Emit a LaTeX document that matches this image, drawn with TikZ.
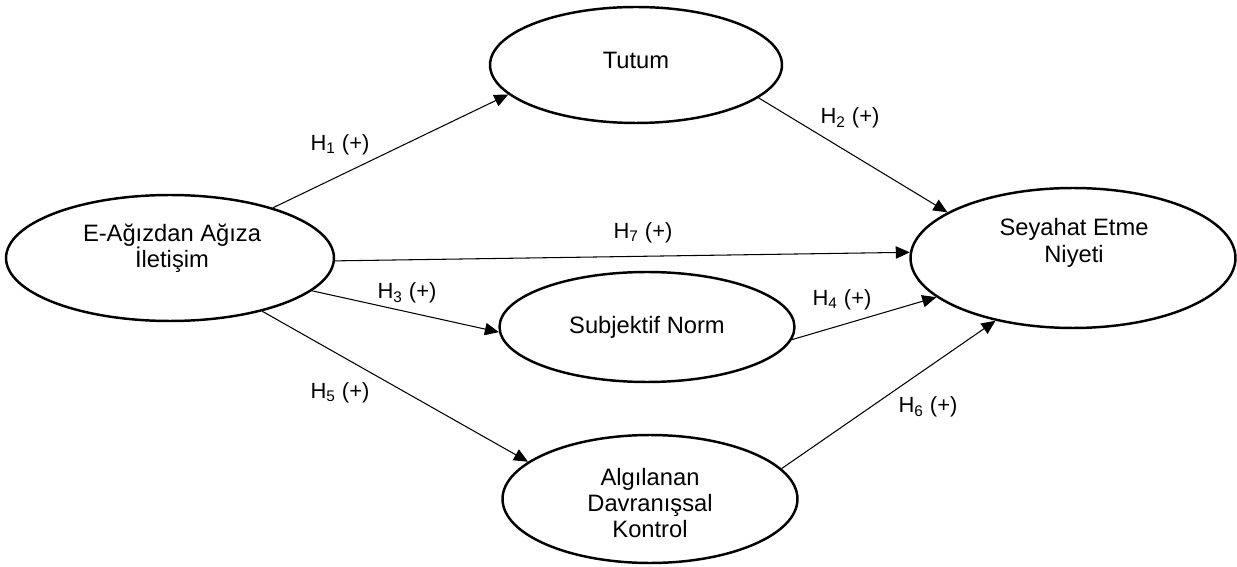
\documentclass[tikz,border=0pt]{standalone}
\usepackage{fontspec}
\setmainfont{Liberation Sans}
\usetikzlibrary{shapes.geometric,arrows.meta}

\begin{document}
\begin{tikzpicture}[x=0.02cm,y=-0.02cm,
        var/.style={draw,ellipse,line width=1.4pt,inner sep=0pt},
        txt/.style={align=center,font=\fontsize{13.5}{15}\selectfont},
        hyp/.style={font=\fontsize{12.5}{15}\selectfont},
        path/.style={line width=0.6pt,-{Triangle[length=8pt,width=7pt]}}]
        \useasboundingbox (0,0) rectangle (1237,567);
        % ellipses
        \node[var,minimum width=5.84cm,minimum height=2.32cm] (tut) at (636,65) {};
        \node[var,minimum width=6.56cm,minimum height=2.52cm] (ewom) at (170,258) {};
        \node[var,minimum width=6.5cm,minimum height=2.8cm] (niy) at (1073,258) {};
        \node[var,minimum width=5.9cm,minimum height=2.2cm] (sn) at (647,327) {};
        \node[var,minimum width=5.9cm,minimum height=2.56cm] (adk) at (650,499) {};
        \node[txt] (tuttxt) at (636,60) {Tutum};
        \node[txt] (ewomtxt) at (172,248) {E-Ağızdan Ağıza\\İletişim};
        \node[txt] (niytxt) at (1074,243) {Seyahat Etme\\Niyeti};
        \node[txt] (sntxt) at (647,327) {Subjektif Norm};
        \node[txt] (adktxt) at (650,503) {Algılanan\\Davranışsal\\Kontrol};
        % paths
        \draw[path] (ewom.26) -- (tut.193.5);
        \draw[path] (tut.345) -- (niy.160.2);
        \draw[path] (ewom.359.3) -- (niy.178.2);
        \draw[path] (ewom.347.4) -- (sn.182.3);
        \draw[path] (sn.355.7) -- (niy.196.2);
        \draw[path] (ewom.330.9) -- (adk.163.9);
        \draw[path] (adk.13.2) -- (niy.219.6);
        \node[hyp] (h1) at (340,145) {H\textsubscript{1} (+)};
        \node[hyp] (h2) at (850,118) {H\textsubscript{2} (+)};
        \node[hyp] (h7) at (643,233) {H\textsubscript{7} (+)};
        \node[hyp] (h3) at (407,293) {H\textsubscript{3} (+)};
        \node[hyp] (h4) at (842,300) {H\textsubscript{4} (+)};
        \node[hyp] (h5) at (340,393) {H\textsubscript{5} (+)};
        \node[hyp] (h6) at (928,407) {H\textsubscript{6} (+)};
    \end{tikzpicture}
\end{document}
